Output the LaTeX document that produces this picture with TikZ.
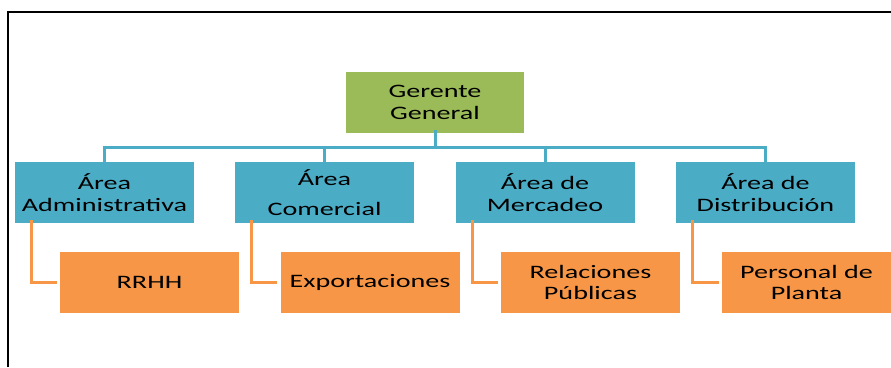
\documentclass[tikz,border=0pt]{standalone}
\usepackage{fontspec}
\setmainfont{Carlito}[FakeStretch=1.48]
\begin{document}
\begin{tikzpicture}[x=1pt,y=-1pt,
  box/.style={inner sep=0pt, minimum height=61pt, align=center, text=black,
    font=\fontsize{19}{22}\selectfont},
  topbox/.style={box, fill=green!0!gbox, minimum width=178pt},
  areabox/.style={box, fill=bbox, minimum width=179pt},
  subbox/.style={box, fill=obox, minimum width=179pt, font=\fontsize{19}{21}\selectfont},
  bl/.style={draw=bbox, line width=3pt},
  orl/.style={draw=obox, line width=3pt},
  frame/.style={draw=black, line width=2pt}]
\definecolor{gbox}{HTML}{9BBB59}
\definecolor{bbox}{HTML}{4BACC6}
\definecolor{obox}{HTML}{F79646}
\useasboundingbox (0,0) rectangle (891,367);
\draw[frame] (8,367) -- (8,12) -- (891,12);

\node[topbox] (g) at (435,102.5) {Gerente\\General};

\node[areabox] (a1) at (104.5,192.5) {Área\\Administrativa};
\node[areabox] (a2) at (324.5,192.5) {Área\\[8pt]Comercial};
\node[areabox] (a3) at (545,192.5) {Área de\\Mercadeo};
\node[areabox] (a4) at (765.5,192.5) {Área de\\Distribución};

\node[subbox] (o1) at (149.5,282.5) {RRHH};
\node[subbox] (o2) at (370,282.5) {Exportaciones};
\node[subbox] (o3) at (590.5,282.5) {Relaciones\\Públicas};
\node[subbox, minimum width=169pt] (o4) at (806.5,282.5) {Personal de\\Planta};

\coordinate (bus) at (435,147);
\draw[bl] ([yshift=3pt]g.south) -- (g.south |- bus);
\draw[bl] ([yshift=-3pt]a1.north) -- (a1.north |- bus) -- (a4.north |- bus) -- ([yshift=-3pt]a4.north);
\draw[bl] ([yshift=-3pt]a2.north) -- (a2.north |- bus);
\draw[bl] ([yshift=-3pt]a3.north) -- (a3.north |- bus);

\draw[orl] ([xshift=17pt,yshift=3pt]a1.south west) |- ([xshift=-3pt]o1.west);
\draw[orl] ([xshift=17pt,yshift=3pt]a2.south west) |- ([xshift=-3pt]o2.west);
\draw[orl] ([xshift=17pt,yshift=3pt]a3.south west) |- ([xshift=-3pt]o3.west);
\draw[orl] ([xshift=17pt,yshift=3pt]a4.south west) |- ([xshift=-3pt]o4.west);
\end{tikzpicture}
\end{document}
